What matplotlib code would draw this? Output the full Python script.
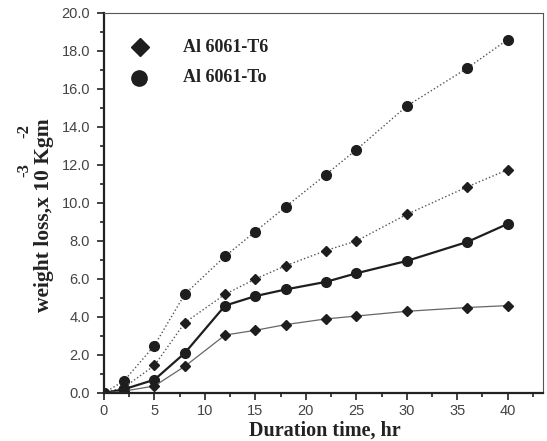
import matplotlib.pyplot as plt
from matplotlib.ticker import MultipleLocator

# duration (hr)
hours = [0, 2, 5, 8, 12, 15, 18, 22, 25, 30, 36, 40]

# weight loss, x10^-3 kg/m^2
to_upper = [0, 0.65, 2.5, 5.2, 7.2, 8.5, 9.8, 11.5, 12.8, 15.1, 17.1, 18.6]
t6_upper = [0, 0.3, 1.45, 3.7, 5.2, 6.0, 6.7, 7.5, 8.0, 9.4, 10.85, 11.75]
to_lower = [0, 0.2, 0.7, 2.1, 4.6, 5.1, 5.45, 5.85, 6.3, 6.95, 7.95, 8.9]
t6_lower = [0, 0.1, 0.37, 1.4, 3.05, 3.3, 3.6, 3.9, 4.05, 4.3, 4.5, 4.6]

legend_labels = ["Al 6061-T6", "Al 6061-To"]

fig = plt.figure(figsize=(5.47, 4.41), dpi=100)
ax = fig.add_axes([104 / 547, 1 - 393 / 441, (543 - 104) / 547, 380 / 441])

ink = "#1e1e1e"
ax.plot(hours, to_upper, color="#555555", lw=1.0, ls=":", marker="o",
        ms=7, mfc=ink, mec=ink)
ax.plot(hours, t6_upper, color="#555555", lw=1.0, ls=":", marker="D",
        ms=5, mfc=ink, mec=ink)
ax.plot(hours, to_lower, color=ink, lw=1.6, ls="-", marker="o",
        ms=7, mfc=ink, mec=ink)
ax.plot(hours, t6_lower, color="#666666", lw=0.9, ls="-", marker="D",
        ms=5, mfc=ink, mec=ink)

ax.set_xlim(0, 43.5)
ax.set_ylim(0, 20)
ax.xaxis.set_major_locator(MultipleLocator(5))
ax.xaxis.set_minor_locator(MultipleLocator(2.5))
ax.yaxis.set_major_locator(MultipleLocator(2))
ax.yaxis.set_minor_locator(MultipleLocator(1))
ax.set_yticklabels([f"{v:.1f}" for v in ax.get_yticks()])
ax.tick_params(which="both", direction="out", color="#222222", width=1.2,
               labelcolor="#444444", labelsize=10.5)
ax.tick_params(which="major", length=5)
ax.tick_params(which="minor", length=3)
ax.tick_params(axis="y", which="major", pad=5)
ax.tick_params(axis="x", which="major", pad=3)
for lab in ax.get_xticklabels() + ax.get_yticklabels():
    lab.set_family("Liberation Sans")
for side in ["left", "bottom"]:
    ax.spines[side].set_linewidth(1.6)
    ax.spines[side].set_color("#222222")
for side in ["top", "right"]:
    ax.spines[side].set_linewidth(0.8)
    ax.spines[side].set_color("#555555")

serif = dict(family="Liberation Serif", weight="bold", color="#222222")
fig.text(325 / 547, 1 - 431 / 441, "Duration time, hr", ha="center",
         va="center", fontsize=14.5, **serif)
fig.text(44 / 547, 1 - 215 / 441, "weight loss,x 10 Kgm", rotation=90,
         ha="center", va="center", fontsize=15.5, **serif)
fig.text(24 / 547, 1 - 170 / 441, "-3", rotation=90, ha="center",
         va="center", fontsize=12, **serif)
fig.text(24 / 547, 1 - 131 / 441, "-2", rotation=90, ha="center",
         va="center", fontsize=12, **serif)

# legend drawn by hand like the original
ax.plot([3.6], [18.2], marker="D", ms=9, color=ink, clip_on=False)
ax.plot([3.5], [16.6], marker="o", ms=11, color=ink, clip_on=False)
ax.text(7.8, 18.2, legend_labels[0], ha="left", va="center", fontsize=13,
        **serif)
ax.text(7.8, 16.6, legend_labels[1], ha="left", va="center", fontsize=13,
        **serif)

fig.savefig("out.png", dpi=100)
